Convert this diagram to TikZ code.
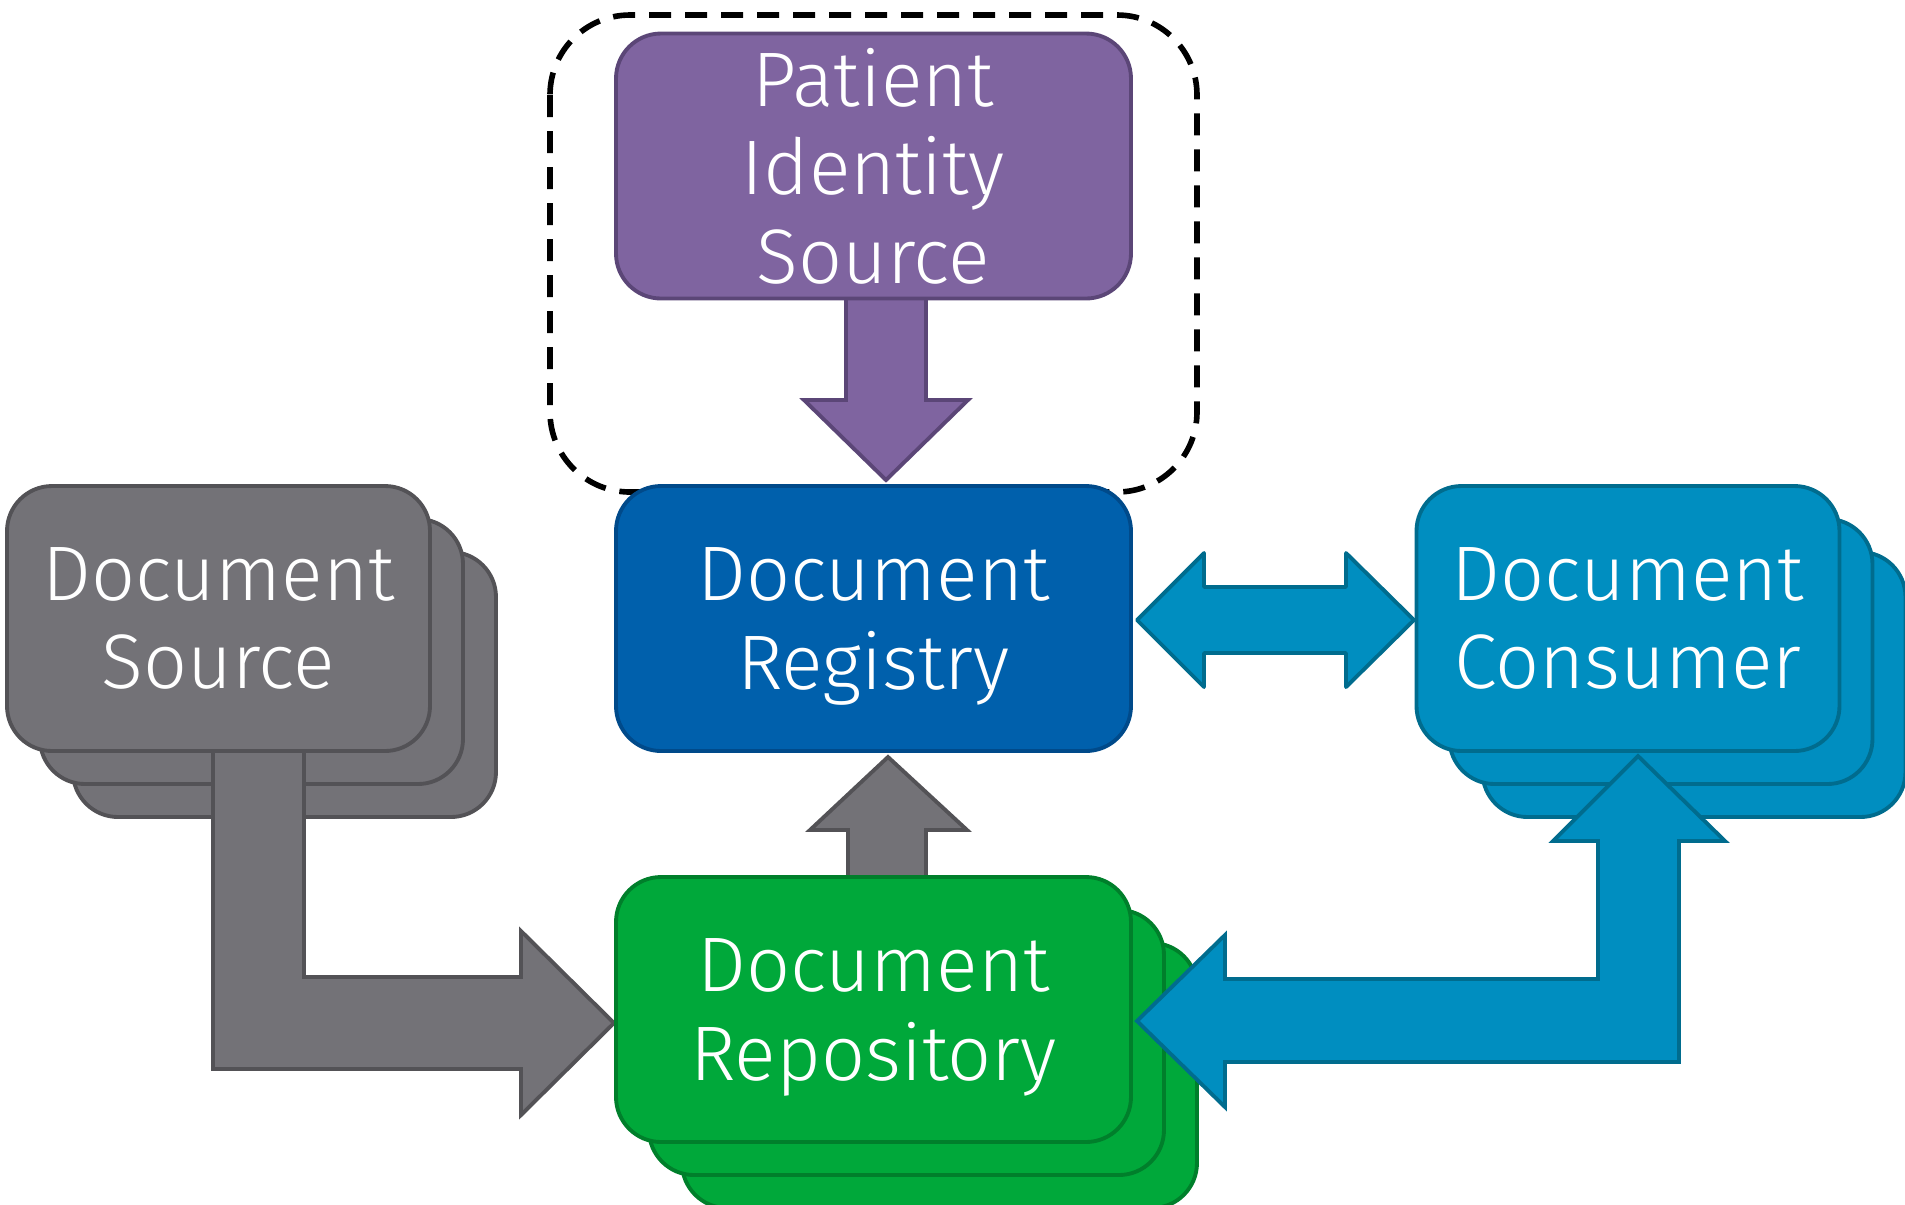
\documentclass[tikz,border=0pt]{standalone}
\usepackage{fontspec}
\IfFontExistsTF{Fira Sans Light}{\setmainfont{Fira Sans Light}}{\setmainfont{Fira Sans}}
\definecolor{gfill}{HTML}{737277}
\definecolor{gline}{HTML}{535256}
\definecolor{pfill}{HTML}{7F64A0}
\definecolor{pline}{HTML}{5B4677}
\definecolor{rfill}{HTML}{0060AC}
\definecolor{rline}{HTML}{004A8A}
\definecolor{cfill}{HTML}{008EC0}
\definecolor{cline}{HTML}{006C8E}
\definecolor{efill}{HTML}{00A83A}
\definecolor{eline}{HTML}{007F2B}
\newcommand{\nodepth}[1]{\raisebox{0pt}[\height][0pt]{#1}}
\begin{document}
\begin{tikzpicture}[x=0.1mm,y=-0.1mm,
  box/.style={rectangle,rounded corners=4.5mm,inner sep=0pt,line width=1.1pt,
    minimum height=26.5mm,text=white,align=center,
    font=\fontsize{22}{25.2}\selectfont},
  wide/.style={box,minimum width=51.5mm},
  narrow/.style={box,minimum width=42.3mm},
  gbox/.style={draw=gline,fill=gfill},
  pbox/.style={draw=pline,fill=pfill},
  rbox/.style={draw=rline,fill=rfill},
  cbox/.style={draw=cline,fill=cfill},
  ebox/.style={draw=eline,fill=efill},
  blockarrow/.style={line width=1.1pt,line join=miter},
]
\useasboundingbox (0,0) rectangle (1905,1204);
% dashed group
\draw[line width=1.6pt,dash pattern=on 2.2mm off 1.4mm,rounded corners=8mm] (550,15) rectangle (1197,492);
% Document Source stack
\node[narrow,gbox] (src3) at (284.5,684.5) {};
\node[narrow,gbox] (src2) at (251.5,651.5) {};
\draw[blockarrow,draw=gline,fill=gfill] (213,740) -- (213,1069) -- (521,1069) -- (521,1115) -- (614,1023) -- (521,931) -- (521,977) -- (304,977) -- (304,740) -- cycle;
\node[narrow,gbox] (src) at (218.5,618.5) {Document\\Source};
% Document Consumer stack
\node[narrow,cbox] (con3) at (1694,684.5) {};
\node[narrow,cbox] (con2) at (1661,651.5) {};
\node[narrow,cbox] (con) at (1628,618.5) {Document\\Consumer};
% Document Repository stack
\node[wide,ebox] (rep3) at (939.5,1075.5) {};
\node[wide,ebox] (rep2) at (906.5,1042.5) {};
% blue L arrow
\draw[blockarrow,draw=cline,fill=cfill] (1137,1021) -- (1225,935) -- (1225,979) -- (1598,979) -- (1598,841) -- (1553,841) -- (1638,756) -- (1725,841) -- (1679,841) -- (1679,1062) -- (1225,1062) -- (1225,1107) -- cycle;
% gray up arrow
\draw[blockarrow,draw=gline,fill=gfill] (848,900) -- (848,830) -- (810,830) -- (888,757) -- (967,830) -- (926,830) -- (926,900) -- cycle;
\node[wide,ebox] (rep) at (873.5,1009.5) {Document\\\nodepth{Repository}};
% purple arrow
\draw[blockarrow,draw=pline,fill=pfill] (846,280) -- (846,400) -- (804,400) -- (886,480) -- (968,400) -- (926,400) -- (926,280) -- cycle;
\node[wide,pbox] (pis) at (873.5,166) {Patient\\Identity\\Source};
\node[wide,rbox] (reg) at (873.5,618.5) {Document\\\nodepth{Registry}};
% double arrow
\draw[line width=1.1pt,line join=round,draw=cline,fill=cfill] (1137,620) -- (1204,553) -- (1204,587) -- (1346,587) -- (1346,553) -- (1414,620) -- (1346,687) -- (1346,653) -- (1204,653) -- (1204,687) -- cycle;
\end{tikzpicture}
\end{document}
